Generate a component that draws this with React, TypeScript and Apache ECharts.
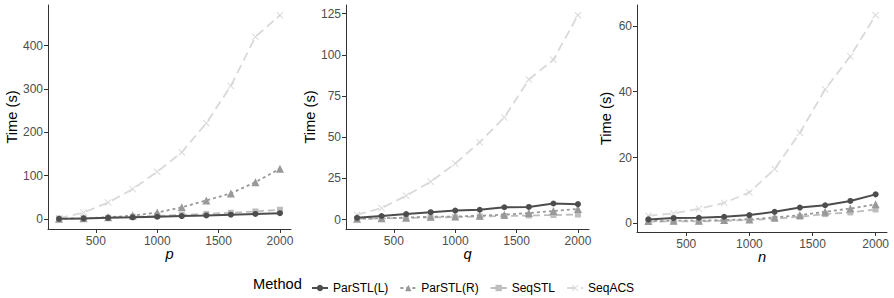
import React, { useEffect, useRef } from "react";
import * as echarts from "echarts";

const xValues = [200, 400, 600, 800, 1000, 1200, 1400, 1600, 1800, 2000];
const xTicks = [500, 1000, 1500, 2000];

const methodNames = ["ParSTL(L)", "ParSTL(R)", "SeqSTL", "SeqACS"];

// Panel p
const pParL = [0.5, 1.5, 2.8, 4, 5.3, 6.8, 8.3, 10, 11.8, 13.5];
const pParR = [0.8, 1.8, 4, 8, 15, 27, 43, 59, 85, 116];
const pSeqSTL = [0.6, 1.5, 3.2, 5.2, 7.3, 9.5, 11.8, 14.5, 17.5, 21.5];
const pSeqACS = [2, 15, 38, 69, 109, 154, 221, 307, 420, 470];
const pTicks = [0, 100, 200, 300, 400];

// Panel q
const qParL = [1.1, 2.2, 3.4, 4.5, 5.5, 6, 7.5, 7.7, 9.8, 9.4];
const qParR = [0.5, 0.8, 1.2, 1.8, 1.9, 2.4, 3, 4, 5.2, 6.5];
const qSeqSTL = [0.5, 0.7, 1, 1.4, 1.5, 1.9, 2.2, 2.5, 2.8, 3.1];
const qSeqACS = [3, 7, 14.5, 23, 34, 47, 62, 85, 97, 124];
const qTicks = [0, 25, 50, 75, 100, 125];

// Panel n
const nParL = [1.2, 1.6, 1.7, 2.0, 2.5, 3.5, 4.8, 5.5, 6.8, 8.8];
const nParR = [0.7, 0.8, 0.8, 1.0, 1.2, 1.8, 2.5, 3.5, 4.5, 5.8];
const nSeqSTL = [0.5, 0.6, 0.6, 0.8, 1.0, 1.4, 2.0, 2.8, 3.3, 4.2];
const nSeqACS = [2.3, 3, 4.4, 6.2, 9.4, 16.5, 27.5, 40.7, 50.8, 63.2];
const nTicks = [0, 20, 40, 60];

const xLabels = ["p", "q", "n"];

const FONT = "'Liberation Sans', Arial, Helvetica, sans-serif";
const X_SYMBOL =
  "path://M0,1 L1,0 L5,4 L9,0 L10,1 L6,5 L10,9 L9,10 L5,6 L1,10 L0,9 L4,5 Z";

const styles = [
  { color: "#4D4D4D", symbol: "circle", size: 6, type: "solid" as any, width: 2 },
  { color: "#999999", symbol: "triangle", size: 8, type: [3, 3], width: 1.8 },
  { color: "#BDBDBD", symbol: "rect", size: 6, type: [7, 4], width: 1.8 },
  { color: "#D9D9D9", symbol: X_SYMBOL, size: 7, type: [9, 5], width: 1.8 },
];

const panels = [
  { data: [pParL, pParR, pSeqSTL, pSeqACS], ticks: pTicks },
  { data: [qParL, qParR, qSeqSTL, qSeqACS], ticks: qTicks },
  { data: [nParL, nParR, nSeqSTL, nSeqACS], ticks: nTicks },
];

const grids = [
  { left: 48, top: 5, width: 243, height: 224 },
  { left: 346, top: 5, width: 243, height: 224 },
  { left: 637, top: 5, width: 250, height: 227 },
];

function buildOption() {
  const xAxis: any[] = [];
  const yAxis: any[] = [];
  const series: any[] = [];
  const graphic: any[] = [];
  const xMin = Math.min(...xValues);
  const xMax = Math.max(...xValues);
  const xPad = (xMax - xMin) * 0.05;

  panels.forEach((panel, pi) => {
    const all = panel.data.flat();
    const lo = Math.min(...all);
    const hi = Math.max(...all);
    const pad = (hi - lo) * 0.05;
    const axisCommon = {
      axisLine: { show: true, onZero: false, lineStyle: { color: "#333333", width: 1 } },
      axisTick: { show: true, length: 4, lineStyle: { color: "#333333", width: 1 } },
      splitLine: { show: false },
    };
    xAxis.push({
      type: "value",
      gridIndex: pi,
      min: xMin - xPad,
      max: xMax + xPad,
      ...axisCommon,
      axisTick: { ...axisCommon.axisTick, customValues: xTicks },
      axisLabel: {
        customValues: xTicks,
        formatter: (v: number) => String(v),
        color: "#4D4D4D",
        fontSize: 12,
        margin: 6,
        fontFamily: FONT,
      },
    });
    yAxis.push({
      type: "value",
      gridIndex: pi,
      min: lo - pad,
      max: hi + pad,
      ...axisCommon,
      axisTick: { ...axisCommon.axisTick, customValues: panel.ticks },
      axisLabel: {
        customValues: panel.ticks,
        formatter: (v: number) => String(v),
        color: "#4D4D4D",
        fontSize: 12,
        margin: 5,
        fontFamily: FONT,
      },
    });
    for (let mi = methodNames.length - 1; mi >= 0; mi--) {
      const st = styles[mi];
      series.push({
        type: "line",
        name: methodNames[mi],
        xAxisIndex: pi,
        yAxisIndex: pi,
        data: xValues.map((x, i) => [x, panel.data[mi][i]]),
        symbol: st.symbol,
        symbolSize: st.size,
        showSymbol: true,
        color: st.color,
        itemStyle: { color: st.color, borderWidth: 0 },
        lineStyle: { color: st.color, width: st.width, type: st.type },
        emphasis: { disabled: true },
        z: 2 + (methodNames.length - mi),
      });
    }
    const g = grids[pi];
    graphic.push({
      type: "text",
      x: g.left - (pi === 2 ? 31 : 36),
      y: g.top + g.height / 2,
      rotation: Math.PI / 2,
      style: {
        text: "Time (s)",
        fontSize: 14.67,
        fontFamily: FONT,
        fill: "#000000",
        textAlign: "center",
        textVerticalAlign: "middle",
      },
    });
    graphic.push({
      type: "text",
      x: g.left + g.width / 2,
      y: g.top + g.height + 25,
      style: {
        text: xLabels[pi],
        fontSize: 14.67,
        fontStyle: "italic",
        fontFamily: FONT,
        fill: "#000000",
        textAlign: "center",
        textVerticalAlign: "middle",
      },
    });
  });

  graphic.push({
    type: "text",
    x: 253,
    y: 284,
    style: {
      text: "Method",
      fontSize: 14.67,
      fontFamily: FONT,
      fill: "#000000",
      textAlign: "left",
      textVerticalAlign: "middle",
    },
  });

  return {
    animation: false,
    textStyle: { fontFamily: FONT },
    grid: grids.map((g) => ({ ...g, containLabel: false })),
    xAxis,
    yAxis,
    series,
    graphic,
    legend: {
      data: methodNames,
      left: 306,
      top: 277,
      itemWidth: 16,
      itemHeight: 8,
      itemGap: 11,
      selectedMode: false,
      textStyle: { fontSize: 12, color: "#000000", fontFamily: FONT },
    },
  };
}

export default function App() {
  const ref = useRef<HTMLDivElement>(null);
  useEffect(() => {
    if (!ref.current) return;
    const chart = echarts.init(ref.current, null, { renderer: "svg" });
    chart.setOption(buildOption() as any);
    return () => chart.dispose();
  }, []);
  return (
    <div
      ref={ref}
      style={{ position: "fixed", left: 0, top: 0, width: 894, height: 298, background: "#ffffff" }}
    />
  );
}
